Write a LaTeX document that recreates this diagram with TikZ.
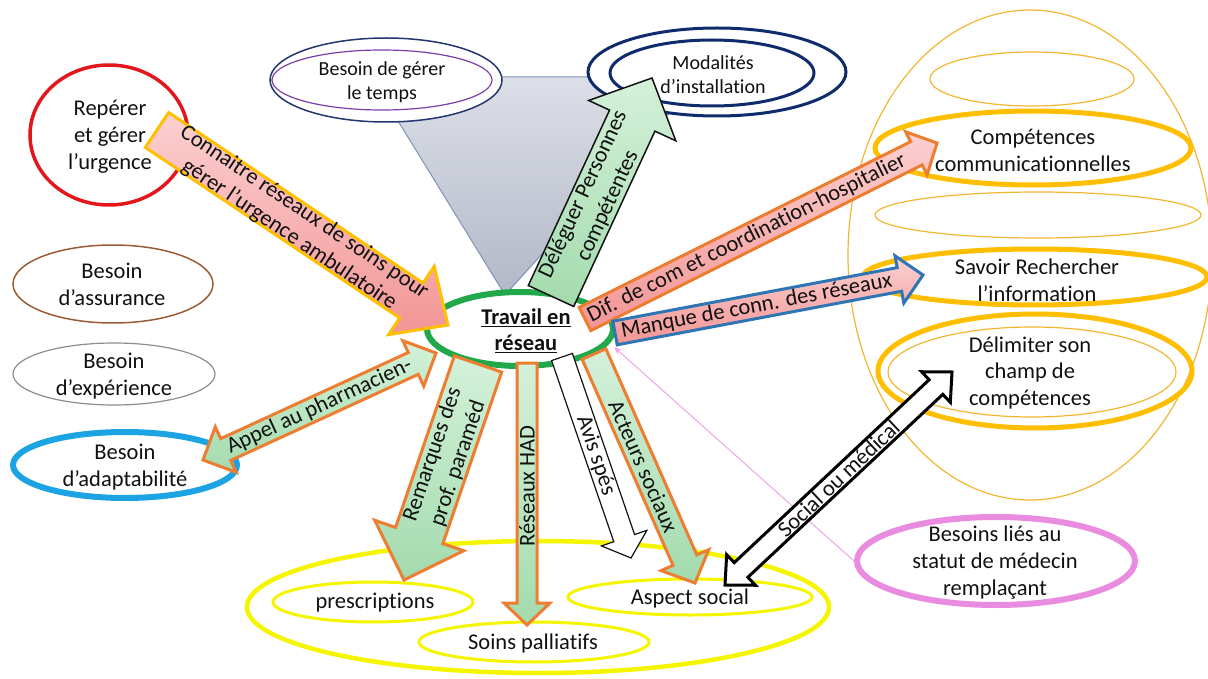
\documentclass[tikz,border=0pt]{standalone}
\usepackage{fontspec}
\setmainfont{Carlito}[RawFeature={-liga}]
\usetikzlibrary{calc,shapes.geometric,arrows.meta}

\definecolor{urgred}{HTML}{E3161C}
\definecolor{navy}{HTML}{0F2B6B}
\definecolor{tempsblue}{HTML}{23366F}
\definecolor{tempspurple}{HTML}{7B3FA8}
\definecolor{brownline}{HTML}{9A5B35}
\definecolor{greyline}{HTML}{8C8C8C}
\definecolor{adaptblue}{HTML}{1CA3E3}
\definecolor{netgreen}{HTML}{20A84A}
\definecolor{soinyellow}{HTML}{F5F500}
\definecolor{compgold}{HTML}{FFBF00}
\definecolor{thingold}{HTML}{F2B632}
\definecolor{rempink}{HTML}{E98BDF}
\definecolor{linkpink}{HTML}{EDA6E6}
\definecolor{arrorange}{HTML}{ED7D31}
\definecolor{arrgold}{HTML}{FFC000}
\definecolor{arrblue}{HTML}{2E75B6}
\definecolor{pinklight}{HTML}{FCD0D0}
\definecolor{pinkdark}{HTML}{F29595}
\definecolor{greenlight}{HTML}{D4F1D9}
\definecolor{greendark}{HTML}{A3DBAD}
\definecolor{triedge}{HTML}{7F93BA}
\definecolor{trilight}{HTML}{DCDFE7}
\definecolor{tridark}{HTML}{B3B8C7}
\definecolor{ink}{HTML}{111111}

% single-headed block arrow: tail, tip, half shaft, half head, head length, style
\newcommand\onearrow[6]{%
  \coordinate (hb) at ($(#2)!#5!(#1)$);
  \draw[#6] ($(#1)!#3!90:(#2)$) -- ($(hb)!#3!90:(#2)$) -- ($(hb)!#4!90:(#2)$) -- (#2)
    -- ($(hb)!#4!-90:(#2)$) -- ($(hb)!#3!-90:(#2)$) -- ($(#1)!#3!-90:(#2)$) -- cycle;
}
% double-headed block arrow: end, end, half shaft, half head, head length, style
\newcommand\twoarrow[6]{%
  \coordinate (hp) at ($(#1)!#5!(#2)$);
  \coordinate (hq) at ($(#2)!#5!(#1)$);
  \draw[#6] (#1) -- ($(hp)!#4!90:(#2)$) -- ($(hp)!#3!90:(#2)$) -- ($(hq)!#3!90:(#2)$)
    -- ($(hq)!#4!90:(#2)$) -- (#2) -- ($(hq)!#4!-90:(#2)$) -- ($(hq)!#3!-90:(#2)$)
    -- ($(hp)!#3!-90:(#2)$) -- ($(hp)!#4!-90:(#2)$) -- cycle;
}

\begin{document}
\begin{tikzpicture}[x=1pt, y=-1pt, font=\fontsize{22.5}{27}\selectfont, text=ink,
  oval/.style={ellipse, inner sep=0pt},
  lbl/.style={align=center, inner sep=0pt},
  smalllbl/.style={lbl, font=\fontsize{20}{24}\selectfont},
  arlbl/.style={sloped, allow upside down, align=center, inner sep=0pt},
  pinkarrow/.style={top color=pinklight, bottom color=pinkdark, line width=3pt},
  greenarrow/.style={top color=greenlight, bottom color=greendark, line width=3pt, draw=arrorange},
  thinring/.style={draw=thingold, line width=1.2pt},
  thickring/.style={draw=compgold, line width=5pt},
  soinring/.style={draw=soinyellow, line width=3pt}]

\useasboundingbox (0,0) rectangle (1208,679);

% grey funnel behind the centre
\draw[triedge, line width=1pt, top color=trilight, bottom color=tridark]
  (371,77) -- (702,77) -- (505,295) -- cycle;

% right-hand group of skills
\node[oval, thinring, minimum width=364pt, minimum height=490pt] (skills) at (1030,255) {};
\node[oval, thinring, minimum width=204pt, minimum height=54pt] (skill1) at (1032,79) {};
\node[oval, thickring, minimum width=316pt, minimum height=74pt] (comp) at (1033,148) {};
\node[lbl] (comp-t) at (1033,150) {Compétences\\communicationnelles};
\node[oval, thinring, minimum width=326pt, minimum height=46pt] (skill3) at (1038,215) {};
\node[oval, thickring, minimum width=344pt, minimum height=56pt] (sav) at (1035,277) {};
\node[lbl] (sav-t) at (1037,280) {Savoir Rechercher\\l’information};
\node[oval, thickring, minimum width=314pt, minimum height=114pt] (delim) at (1035,371) {};
\draw[thinring] (1032,372) ellipse [x radius=144, y radius=45];
\node[lbl] (delim-t) at (1030,373) {Délimiter son\\champ de\\compétences};

% replacement doctor
\node[oval, draw=rempink, line width=6pt, minimum width=278pt, minimum height=88pt] (remp) at (996,561) {};
\node[lbl] (remp-t) at (995,563) {Besoins liés au\\statut de médecin\\remplaçant};

% left-hand needs
\node[oval, draw=urgred, line width=3.5pt, minimum width=158pt, minimum height=140pt] (urg) at (109,135) {};
\node[lbl] (urg-t) at (110,137) {Repérer\\et gérer\\l’urgence};
\node[oval, draw=brownline, line width=1.5pt, minimum width=200pt, minimum height=78pt] (assur) at (113,284) {};
\node[lbl] (assur-t) at (112,284) {Besoin\\d’assurance};
\node[oval, draw=greyline, line width=1.2pt, minimum width=202pt, minimum height=62pt] (exp) at (114,374) {};
\node[lbl] (exp-t) at (114,376) {Besoin\\d’expérience};
\node[oval, draw=adaptblue, line width=6pt, minimum width=224pt, minimum height=66pt] (adapt) at (125,465) {};
\node[lbl] (adapt-t) at (125,467) {Besoin\\d’adaptabilité};

% top needs
\node[oval, draw=tempsblue, fill=white, line width=1.5pt, minimum width=232pt, minimum height=84pt] (temps) at (386,80) {};
\draw[tempspurple, line width=1.2pt] (382,80) ellipse [x radius=110, y radius=30];
\node[smalllbl] (temps-t) at (382,82) {Besoin de gérer\\le temps};
\node[oval, draw=navy, fill=white, line width=3pt, minimum width=258pt, minimum height=88pt] (modal) at (717,72) {};
\draw[navy, line width=3pt] (712,73) ellipse [x radius=102, y radius=33];
\node[smalllbl] (modal-t) at (713,75) {Modalités\\d’installation};

% care fields at the bottom
\node[oval, draw=soinyellow, line width=4.5pt, minimum width=582pt, minimum height=132pt] (soins) at (538,607) {};
\node[oval, soinring, minimum width=200pt, minimum height=40pt] (presc) at (373,602) {};
\node[lbl] (presc-t) at (375,603) {prescriptions};
\node[oval, soinring, minimum width=230pt, minimum height=40pt] (palli) at (534,642) {};
\node[lbl] (palli-t) at (533,643) {Soins palliatifs};
\node[oval, soinring, minimum width=244pt, minimum height=36pt] (social) at (690,597) {};
\node[lbl] (social-t) at (690,598) {Aspect social};

% centre
\node[oval, draw=netgreen, fill=white, line width=6pt, minimum width=186pt, minimum height=74pt] (trav) at (520,329) {};
\node[lbl, font=\fontsize{22.5}{26}\selectfont\bfseries] (trav-t) at (526,331)
  {\underline{Travail en}\\\underline{réseau}};

% thin link from the replacement doctor
\coordinate (plink) at (614,347);
\draw[linkpink, line width=1pt, -{Stealth[length=8pt,width=6pt]}] (remp.west) -- (plink);

% arrow end points
\coordinate (a1s) at (157,130);  \coordinate (a1e) at (448,325);
\coordinate (dls) at (551,296);  \coordinate (dle) at (652,78);
\coordinate (dfs) at (585,319);  \coordinate (dfe) at (937,143);
\coordinate (mqs) at (615,333);  \coordinate (mqe) at (923,275);
\coordinate (rms) at (478,364);  \coordinate (rme) at (404,580);
\coordinate (hds) at (527,363);  \coordinate (hde) at (527,625);
\coordinate (avs) at (562,357);  \coordinate (ave) at (631,558);
\coordinate (acs) at (594,354);  \coordinate (ace) at (695,583);
\coordinate (apa) at (203,460);  \coordinate (apb) at (436,353);
\coordinate (soa) at (725,585);  \coordinate (sob) at (952,372);

% block arrows
\onearrow{a1s}{a1e}{21pt}{41pt}{44pt}{pinkarrow, draw=arrgold}
\path (a1s) -- (a1e) node[arlbl, pos=0.48] (a1-t) {Connaitre réseaux de soins pour\\gérer l’urgence ambulatoire};

\onearrow{dls}{dle}{25pt}{48pt}{47pt}{top color=greenlight, bottom color=greendark, draw=ink, line width=1.5pt}
\path (dls) -- (dle) node[arlbl, pos=0.44] (dl-t) {Déléguer Personnes\\compétentes};

\onearrow{dfs}{dfe}{13pt}{24pt}{23pt}{pinkarrow, draw=arrorange}
\path (dfs) -- (dfe) node[arlbl, pos=0.46] (df-t) {Dif. de com et coordination-hospitalier};

\onearrow{mqs}{mqe}{12pt}{24pt}{24pt}{pinkarrow, draw=arrblue}
\path (mqs) -- (mqe) node[arlbl, pos=0.46] (mq-t) {Manque de conn. des réseaux};

\onearrow{rms}{rme}{25pt}{47pt}{47pt}{greenarrow}
\path (rme) -- (rms) node[arlbl, pos=0.56] (rm-t) {Remarques des\\prof. paraméd};

\onearrow{hds}{hde}{10pt}{23pt}{22pt}{greenarrow}
\path (hde) -- (hds) node[arlbl, pos=0.53] (hd-t) {Réseaux HAD};

\onearrow{avs}{ave}{11pt}{24pt}{21pt}{fill=white, draw=ink, line width=1.2pt}
\path (avs) -- (ave) node[arlbl, pos=0.49] (av-t) {Avis spés};

\onearrow{acs}{ace}{13pt}{26pt}{25pt}{greenarrow}
\path (acs) -- (ace) node[arlbl, pos=0.49] (ac-t) {Acteurs sociaux};

\twoarrow{apa}{apb}{12pt}{25pt}{25pt}{greenarrow}
\path (apa) -- (apb) node[arlbl, pos=0.5] (ap-t) {Appel au pharmacien-};

\twoarrow{soa}{sob}{10pt}{21pt}{22pt}{fill=white, draw=black, line width=3pt}
\path (soa) -- (sob) node[arlbl, pos=0.5] (so-t) {Social ou médical};

\end{tikzpicture}
\end{document}
